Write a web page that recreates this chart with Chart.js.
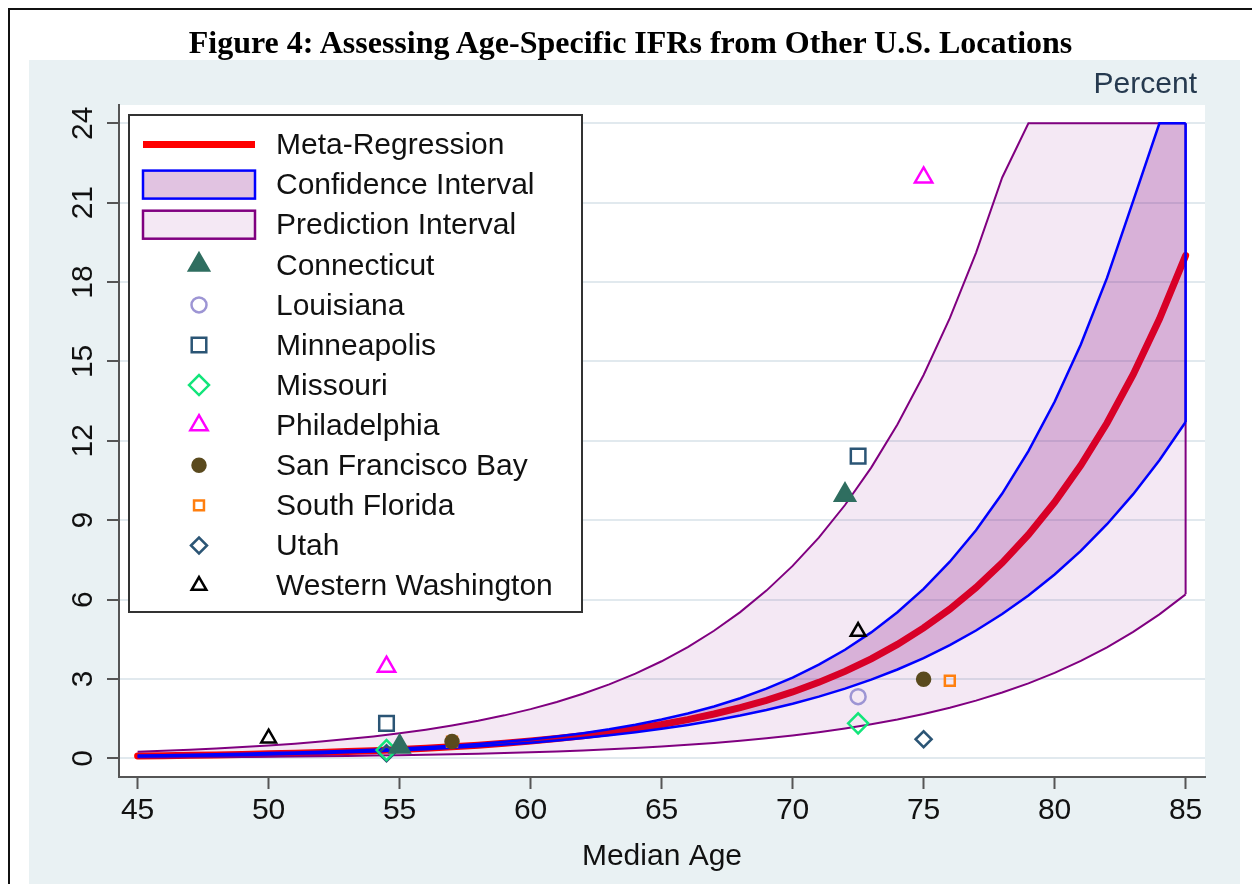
<!DOCTYPE html>
<html>
<head>
<meta charset="utf-8">
<title>Figure 4</title>
<script src="https://cdn.jsdelivr.net/npm/chart.js@4.4.1/dist/chart.umd.min.js"></script>
<style>
  html, body { margin: 0; padding: 0; background: #fff; }
  body { width: 1252px; height: 884px; position: relative; overflow: hidden; }
  #frame { position: absolute; left: 8px; top: 8px; right: -20px; bottom: -20px; border-left: 2px solid #111; border-top: 2px solid #111; }
  #panel { position: absolute; left: 29px; top: 60px; width: 1211px; height: 824px; background: #e9f1f3; }
  #chart { position: absolute; left: 0; top: 0; }
  #figTitle { position: absolute; left: 0; top: 26px; width: 1261px; text-align: center; font: bold 32px/32px 'Liberation Serif', 'Times New Roman', serif; color: #000; white-space: nowrap; }
  #unit { position: absolute; right: 55px; top: 68px; font: 30px/30px 'Liberation Sans', Arial, sans-serif; color: #263a4f; }
</style>
</head>
<body>
<div id="frame"></div>
<div id="panel"></div>
<canvas id="chart" width="1252" height="884"></canvas>
<div id="figTitle">Figure 4: Assessing Age-Specific IFRs from Other U.S. Locations</div>
<div id="unit">Percent</div>

<script>
/* ============================================= */
/* DATA                    */
/* ============================================= */

const ages = [45, 46, 47, 48, 49, 50, 51, 52, 53, 54, 55, 56, 57, 58, 59, 60, 61, 62, 63, 64,
    65, 66, 67, 68, 69, 70, 71, 72, 73, 74, 75, 76, 77, 78, 79, 80, 81, 82, 83, 84, 85];

const metaRegression = [0.086, 0.098, 0.112, 0.129, 0.147, 0.169, 0.193, 0.221, 0.253, 0.289,
    0.331, 0.379, 0.434, 0.496, 0.568, 0.650, 0.744, 0.852, 0.975, 1.116,
    1.277, 1.461, 1.673, 1.914, 2.191, 2.508, 2.870, 3.285, 3.760, 4.304,
    4.926, 5.637, 6.452, 7.385, 8.452, 9.674, 11.072, 12.673, 14.504, 16.601, 19.0];

const ciUpper = [0.106, 0.119, 0.135, 0.153, 0.172, 0.196, 0.221, 0.250, 0.284, 0.322,
    0.366, 0.417, 0.475, 0.543, 0.622, 0.714, 0.822, 0.948, 1.094, 1.265,
    1.463, 1.692, 1.960, 2.270, 2.631, 3.051, 3.537, 4.102, 4.758, 5.520,
    6.404, 7.430, 8.621, 10.005, 11.611, 13.476, 15.640, 18.154, 21.07, 24, 24];

const ciLower = [0.070, 0.081, 0.093, 0.109, 0.125, 0.146, 0.169, 0.195, 0.225, 0.260,
    0.300, 0.345, 0.396, 0.453, 0.519, 0.591, 0.673, 0.766, 0.869, 0.985,
    1.115, 1.261, 1.428, 1.614, 1.824, 2.062, 2.329, 2.631, 2.971, 3.356,
    3.789, 4.277, 4.829, 5.451, 6.153, 6.945, 7.838, 8.847, 9.983, 11.267, 12.71];

const piUpper = [0.250, 0.284, 0.324, 0.372, 0.423, 0.486, 0.554, 0.634, 0.725, 0.827,
    0.947, 1.083, 1.240, 1.417, 1.623, 1.858, 2.128, 2.439, 2.793, 3.201,
    3.667, 4.202, 4.820, 5.524, 6.337, 7.271, 8.341, 9.572, 10.987, 12.615,
    14.485, 16.632, 19.105, 21.95, 24, 24, 24, 24, 24, 24, 24];

const piLower = [0.030, 0.034, 0.039, 0.045, 0.051, 0.059, 0.067, 0.077, 0.088, 0.101,
    0.116, 0.133, 0.152, 0.174, 0.199, 0.227, 0.260, 0.298, 0.340, 0.389,
    0.445, 0.508, 0.581, 0.663, 0.758, 0.865, 0.988, 1.127, 1.287, 1.468,
    1.675, 1.911, 2.179, 2.485, 2.832, 3.228, 3.679, 4.193, 4.776, 5.440, 6.195];

// location estimates: [median age, IFR %]
const connecticut = [[55, 0.44], [72, 9.95]];
const louisiana = [[72.5, 2.33]];
const minneapolis = [[54.5, 1.32], [72.5, 11.42]];
const missouri = [[54.5, 0.31], [72.5, 1.32]];
const philadelphia = [[54.5, 3.46], [75, 21.95]];
const sanFranciscoBay = [[57, 0.63], [75, 2.99]];
const southFlorida = [[57, 0.63], [76, 2.93]];
const utah = [[54.5, 0.19], [75, 0.72]];
const westernWashington = [[50, 0.76], [72.5, 4.79]];

const xTicks = [45, 50, 55, 60, 65, 70, 75, 80, 85];
const yTicks = [0, 3, 6, 9, 12, 15, 18, 21, 24];

/* ============================================= */
/* HELPERS                                       */
/* ============================================= */

const toPoints = values => ages.map((a, i) => ({ x: a, y: values[i] }));
const pairs = list => list.map(p => ({ x: p[0], y: p[1] }));
const last = ages.length - 1;

const PURPLE = '#800080';
const BLUE = '#0000ff';

function curve(label, values, color, width, order, extra) {
    return Object.assign({
        label: label,
        data: toPoints(values),
        showLine: true,
        borderColor: color,
        borderWidth: width,
        pointRadius: 0,
        tension: 0,
        fill: false,
        order: order
    }, extra || {});
}

function markers(label, list, style, radius, stroke, fillColor) {
    return {
        label: label,
        data: pairs(list),
        showLine: false,
        pointStyle: style,
        pointRadius: radius,
        pointHoverRadius: radius,
        pointBorderWidth: 2.5,
        pointBorderColor: stroke,
        pointBackgroundColor: fillColor || 'rgba(0,0,0,0)',
        order: 0,
        legendKind: 'point'
    };
}

/* ============================================= */
/* PLUGINS                                       */
/* ============================================= */

// white plot region on top of the grey-blue panel
const plotBackground = {
    id: 'plotBackground',
    beforeDraw(chart) {
        const { ctx, chartArea: a } = chart;
        ctx.save();
        ctx.fillStyle = '#ffffff';
        ctx.fillRect(a.left, a.top, a.right - a.left, a.bottom - a.top);
        ctx.restore();
    }
};

// boxed legend inside the plot, Stata style
const boxLegend = {
    id: 'boxLegend',
    afterDatasetsDraw(chart, args, opts) {
        const { ctx, chartArea: a } = chart;
        const x0 = a.left + opts.left;
        const y0 = a.top + opts.top;
        ctx.save();
        ctx.fillStyle = '#ffffff';
        ctx.fillRect(x0, y0, opts.width, opts.height);
        ctx.strokeStyle = '#333333';
        ctx.lineWidth = 2;
        ctx.strokeRect(x0, y0, opts.width, opts.height);

        const items = chart.data.datasets.filter(ds => ds.legendKind);
        items.forEach((ds, i) => {
            const cy = y0 + opts.firstRow + i * opts.rowGap;
            const sx = x0 + opts.swatchLeft;
            const sw = opts.swatchWidth;

            if (ds.legendKind === 'line') {
                ctx.strokeStyle = ds.borderColor;
                ctx.lineWidth = ds.borderWidth;
                ctx.lineCap = 'butt';
                ctx.beginPath();
                ctx.moveTo(sx, cy);
                ctx.lineTo(sx + sw, cy);
                ctx.stroke();
            } else if (ds.legendKind === 'band') {
                const h = opts.swatchHeight;
                ctx.fillStyle = ds.fill.above;
                ctx.fillRect(sx, cy - h / 2, sw, h);
                ctx.strokeStyle = ds.borderColor;
                ctx.lineWidth = 2.5;
                ctx.strokeRect(sx, cy - h / 2, sw, h);
            } else {
                ctx.fillStyle = ds.pointBackgroundColor;
                ctx.strokeStyle = ds.pointBorderColor;
                ctx.lineWidth = ds.pointBorderWidth;
                Chart.helpers.drawPoint(ctx, {
                    pointStyle: ds.pointStyle,
                    radius: ds.pointRadius,
                    borderWidth: ds.pointBorderWidth,
                    rotation: 0
                }, sx + sw / 2, cy);
            }

            ctx.fillStyle = '#111111';
            ctx.font = opts.font;
            ctx.textAlign = 'left';
            ctx.textBaseline = 'middle';
            ctx.fillText(ds.label, x0 + opts.textLeft, cy + 1.5);
        });
        ctx.restore();
    }
};

/* ============================================= */
/* CHART                                         */
/* ============================================= */

Chart.defaults.font.family = "'Liberation Sans', Arial, sans-serif";
Chart.defaults.color = '#111111';

const ciFill = 'rgba(128, 0, 128, 0.235)';
const piFill = 'rgba(128, 0, 128, 0.09)';

const datasets = [
    curve('Meta-Regression', metaRegression, '#ff0000', 7, 6, { borderCapStyle: 'round', legendKind: 'line' }),
    curve('CI lower', ciLower, BLUE, 2.5, 1),
    curve('Confidence Interval', ciUpper, BLUE, 2.5, 2, { fill: { target: '-1', above: ciFill, below: ciFill }, legendKind: 'band' }),
    {
        label: 'CI edge',
        data: [{ x: ages[last], y: ciLower[last] }, { x: ages[last], y: ciUpper[last] }],
        showLine: true, borderColor: BLUE, borderWidth: 2.5, pointRadius: 0, order: 1
    },
    curve('PI lower', piLower, PURPLE, 2, 4),
    curve('Prediction Interval', piUpper, PURPLE, 2, 5, { fill: { target: '-1', above: piFill, below: piFill }, legendKind: 'band' }),
    {
        label: 'PI edge',
        data: [{ x: ages[last], y: piLower[last] }, { x: ages[last], y: piUpper[last] }],
        showLine: true, borderColor: PURPLE, borderWidth: 2, pointRadius: 0, order: 3
    },
    markers('Connecticut', connecticut, 'triangle', 11.5, '#2f6e60', '#2f6e60'),
    markers('Louisiana', louisiana, 'circle', 7.5, '#9d95d4'),
    markers('Minneapolis', minneapolis, 'rect', 10.3, '#2b5575'),
    markers('Missouri', missouri, 'rectRot', 10, '#12e57a'),
    markers('Philadelphia', philadelphia, 'triangle', 10, '#ff00ff'),
    markers('San Francisco Bay', sanFranciscoBay, 'circle', 6.5, '#5a4a1e', '#5a4a1e'),
    markers('South Florida', southFlorida, 'rect', 7, '#ff7f0e'),
    markers('Utah', utah, 'rectRot', 8, '#2b5575'),
    markers('Western Washington', westernWashington, 'triangle', 8.5, '#000000')
];

const chart = new Chart(document.getElementById('chart'), {
    type: 'scatter',
    data: { datasets: datasets },
    options: {
        responsive: false,
        devicePixelRatio: 1,
        animation: false,
        events: [],
        layout: { padding: { left: 0, right: 47, top: 105, bottom: 0 } },
        plugins: {
            legend: { display: false },
            tooltip: { enabled: false },
            filler: { drawTime: 'beforeDatasetDraw' },
            boxLegend: {
                left: 10, top: 10, width: 453, height: 497,
                firstRow: 29.5, rowGap: 40.1,
                swatchLeft: 14, swatchWidth: 112, swatchHeight: 28,
                textLeft: 147,
                font: "30px 'Liberation Sans', Arial, sans-serif"
            }
        },
        scales: {
            x: {
                type: 'linear',
                min: 44.29,
                max: 85.74,
                afterBuildTicks: axis => { axis.ticks = xTicks.map(v => ({ value: v })); },
                afterFit: axis => { axis.height = 107; },
                ticks: { font: { size: 30 }, color: '#111', padding: 4, maxRotation: 0 },
                grid: { drawOnChartArea: false, tickLength: 12, tickColor: '#555', tickWidth: 2 },
                border: { color: '#555', width: 2 },
                title: { display: true, text: 'Median Age', font: { size: 30 }, color: '#111', padding: { top: 0, bottom: 9 } }
            },
            y: {
                type: 'linear',
                min: -0.707,
                max: 24.69,
                afterBuildTicks: axis => { axis.ticks = yTicks.map(v => ({ value: v })); },
                afterFit: axis => { axis.width = 119; },
                ticks: { font: { size: 30 }, color: '#111', padding: 7, minRotation: 90, maxRotation: 90, crossAlign: 'center' },
                grid: { color: '#e1e9ee', lineWidth: 2, tickLength: 12, tickColor: '#555', tickWidth: 2 },
                border: { color: '#555', width: 2 }
            }
        }
    },
    plugins: [plotBackground, boxLegend]
});
</script>
</body>
</html>
